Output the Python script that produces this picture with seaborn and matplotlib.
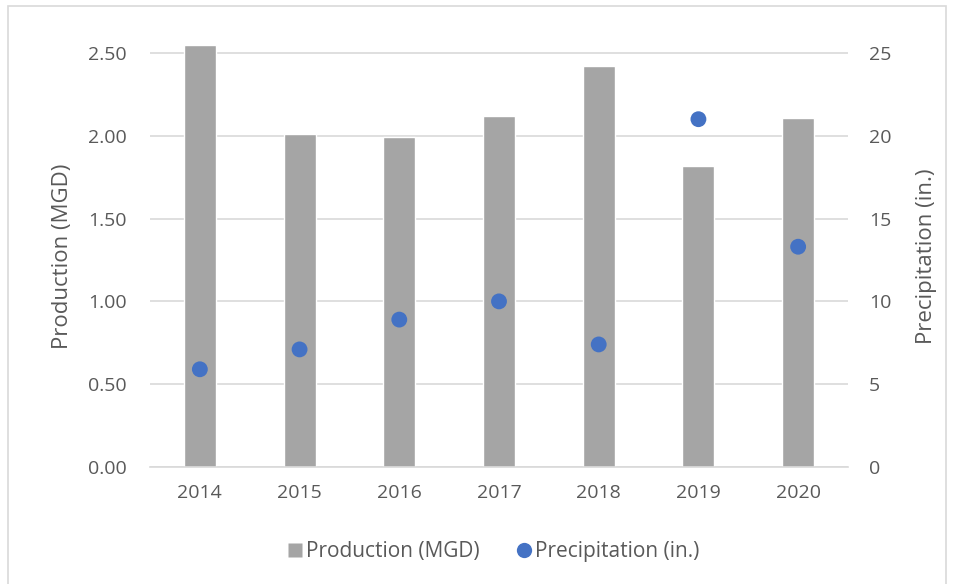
import pandas as pd
import matplotlib.pyplot as plt
import seaborn as sns
from matplotlib.patches import Rectangle
from matplotlib.lines import Line2D

years = ['2014', '2015', '2016', '2017', '2018', '2019', '2020']
production = [2.55, 2.01, 1.99, 2.12, 2.42, 1.82, 2.11]
precipitation = [5.9, 7.1, 8.9, 10.0, 7.4, 21.0, 13.3]

df = pd.DataFrame({'Year': years, 'Production': production, 'Precipitation': precipitation})

sns.set_style('white')
plt.rcParams['font.family'] = ['Open Sans', 'DejaVu Sans']
text_color = '#595959'

fig = plt.figure(figsize=(9.58, 5.84), dpi=100)
ax = fig.add_axes([150 / 958, 117 / 584, 698 / 958, 422 / 584])

sns.barplot(data=df, x='Year', y='Production', color='#a5a5a5', width=0.32,
            saturation=1, ax=ax, zorder=2)
ax.set_xlim(-0.5, 6.5)
ax.set_ylim(0, 2.548)
ax.set_yticks([0, 0.5, 1.0, 1.5, 2.0, 2.5])
ax.set_yticklabels(['0.00', '0.50', '1.00', '1.50', '2.00', '2.50'])
ax.yaxis.grid(True, color='#d9d9d9', linewidth=1.2, zorder=0)
ax.set_axisbelow(True)
for s in ax.spines.values():
    s.set_visible(False)
ax.spines['bottom'].set_visible(True)
ax.spines['bottom'].set_color('#d9d9d9')
ax.spines['bottom'].set_linewidth(1.2)
ax.tick_params(axis='y', length=0, pad=17, labelsize=14, labelcolor=text_color)
ax.tick_params(axis='x', length=0, pad=12, labelsize=14, labelcolor=text_color)
ax.set_xlabel('')
ax.set_ylabel('Production (MGD)', fontsize=16, color=text_color)
ax.yaxis.set_label_coords(-0.111, 0.5)

ax2 = ax.twinx()
sns.scatterplot(data=df, x='Year', y='Precipitation', color='#4472c4', s=130,
                edgecolor='none', ax=ax2, zorder=3)
ax2.set_ylim(0, 25.48)
ax2.set_yticks([0, 5, 10, 15, 20, 25])
for s in ax2.spines.values():
    s.set_visible(False)
ax2.tick_params(axis='y', length=0, pad=15, labelsize=14, labelcolor=text_color)
ax2.set_ylabel('Precipitation (in.)', fontsize=16, color=text_color)
ax2.yaxis.set_label_coords(1.097, 0.5)
ax2.set_xlim(-0.5, 6.5)

handles = [
    Line2D([0], [0], marker='s', linestyle='none', markersize=10,
           markerfacecolor='#a5a5a5', markeredgecolor='none'),
    Line2D([0], [0], marker='o', linestyle='none', markersize=11,
           markerfacecolor='#4472c4', markeredgecolor='none'),
]
fig.legend(handles, ['Production (MGD)', 'Precipitation (in.)'], loc='center',
           bbox_to_anchor=(492 / 958, 1 - 552 / 584), ncol=2, frameon=False,
           fontsize=15, labelcolor=text_color, handletextpad=0.05,
           columnspacing=1.6, handlelength=1.0)

fig.patches.append(Rectangle((8 / 958, -0.01), 938 / 958, 1 - 6 / 584 + 0.01,
                             transform=fig.transFigure, fill=False,
                             edgecolor='#d9d9d9', linewidth=1.2))

fig.savefig('out.png', dpi=100)
